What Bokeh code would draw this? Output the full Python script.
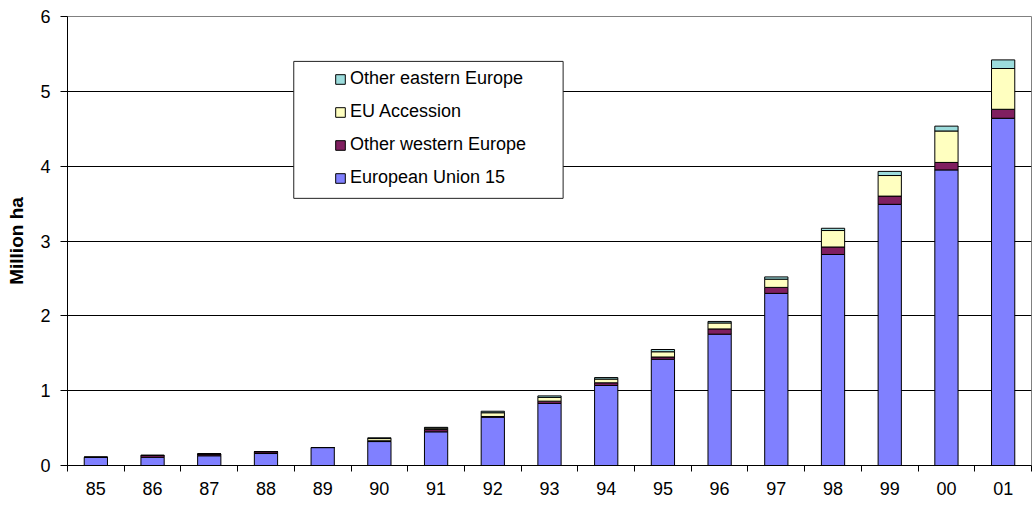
from bokeh.plotting import figure
from bokeh.models import (ColumnDataSource, Range1d, FixedTicker, Legend, LegendItem,
                          BoxAnnotation)
from bokeh.embed import file_html
from bokeh.resources import INLINE

years = ["85", "86", "87", "88", "89", "90", "91", "92", "93", "94",
         "95", "96", "97", "98", "99", "00", "01"]
eu15 = [0.11, 0.11, 0.13, 0.16, 0.24, 0.32, 0.45, 0.645, 0.83, 1.07,
        1.42, 1.755, 2.30, 2.82, 3.49, 3.95, 4.64]
other_west = [0.0, 0.025, 0.025, 0.025, 0.0, 0.01, 0.03, 0.01, 0.03, 0.035,
              0.03, 0.07, 0.08, 0.10, 0.11, 0.10, 0.12]
eu_accession = [0.0, 0.0, 0.0, 0.0, 0.0, 0.03, 0.02, 0.05, 0.05, 0.05,
                0.07, 0.08, 0.11, 0.22, 0.275, 0.42, 0.545]
other_east = [0.0, 0.0, 0.0, 0.0, 0.0, 0.01, 0.01, 0.02, 0.02, 0.02,
              0.03, 0.02, 0.03, 0.03, 0.055, 0.065, 0.115]
y_ticks = [0, 1, 2, 3, 4, 5, 6]

series_keys = ["eu15", "other_west", "eu_accession", "other_east"]
series_labels = ["European Union 15", "Other western Europe", "EU Accession",
                 "Other eastern Europe"]
series_colors = ["#8080FF", "#801F60", "#FFFFC0", "#9CDCDC"]

xs = [i + 0.5 for i in range(len(years))]
source = ColumnDataSource(dict(x=xs, eu15=eu15, other_west=other_west,
                               eu_accession=eu_accession, other_east=other_east))

FONT = "Liberation Sans"

p = figure(output_backend="svg", toolbar_location=None,
           x_range=Range1d(0, len(years)), y_range=Range1d(0, 6),
           min_border_left=67, min_border_right=1, min_border_top=16,
           min_border_bottom=39, frame_width=964, frame_height=449)
p.background_fill_color = "white"
p.border_fill_color = "white"
p.outline_line_color = "#808080"

renderers = p.vbar_stack(series_keys, x="x", width=0.41, source=source,
                         color=series_colors, line_color="black", line_width=1)

# x axis: labels at centers, ticks at category boundaries
xax = p.xaxis[0]
xax.ticker = FixedTicker(ticks=xs, minor_ticks=list(range(len(years) + 1)))
xax.major_label_overrides = {x: y for x, y in zip(xs, years)}
xax.major_tick_line_color = None
xax.major_tick_out = 0
xax.major_tick_in = 0
xax.minor_tick_out = 6
xax.minor_tick_in = 0
xax.minor_tick_line_color = "black"
xax.axis_line_color = "black"
xax.major_label_text_font = FONT
xax.major_label_text_font_size = "18px"
xax.major_label_text_color = "black"
xax.major_label_standoff = 10

yax = p.yaxis[0]
yax.ticker = FixedTicker(ticks=y_ticks, minor_ticks=[])
yax.major_tick_out = 7
yax.major_tick_in = 0
yax.major_tick_line_color = "black"
yax.axis_line_color = "black"
yax.major_label_text_font = FONT
yax.major_label_text_font_size = "18px"
yax.major_label_text_color = "black"
yax.major_label_standoff = 10
yax.axis_label = "Million ha"
yax.axis_label_text_font = FONT
yax.axis_label_text_font_size = "19px"
yax.axis_label_text_font_style = "bold"
yax.axis_label_text_color = "black"
yax.axis_label_standoff = 10

p.xgrid.grid_line_color = None
p.ygrid.ticker = FixedTicker(ticks=[1, 2, 3, 4, 5])
p.ygrid.grid_line_color = "black"
p.ygrid.grid_line_width = 1

# legend frame
box = BoxAnnotation(left=3.99, right=8.74, bottom=3.57, top=5.40,
                    fill_color="white", fill_alpha=1.0,
                    line_color="#222222", line_width=1, line_alpha=1.0)
p.add_layout(box)

items = [LegendItem(label=lab, renderers=[r])
         for lab, r in zip(series_labels[::-1], renderers[::-1])]
legend = Legend(items=items, location=(267, 271), padding=0, margin=0, spacing=0,
                label_height=33, glyph_height=12, glyph_width=12, label_standoff=4,
                border_line_color=None, background_fill_alpha=0.0,
                label_text_font=FONT, label_text_font_size="18px",
                label_text_color="black")
p.add_layout(legend, "center")

open("out.html", "w").write(file_html(p, INLINE))
